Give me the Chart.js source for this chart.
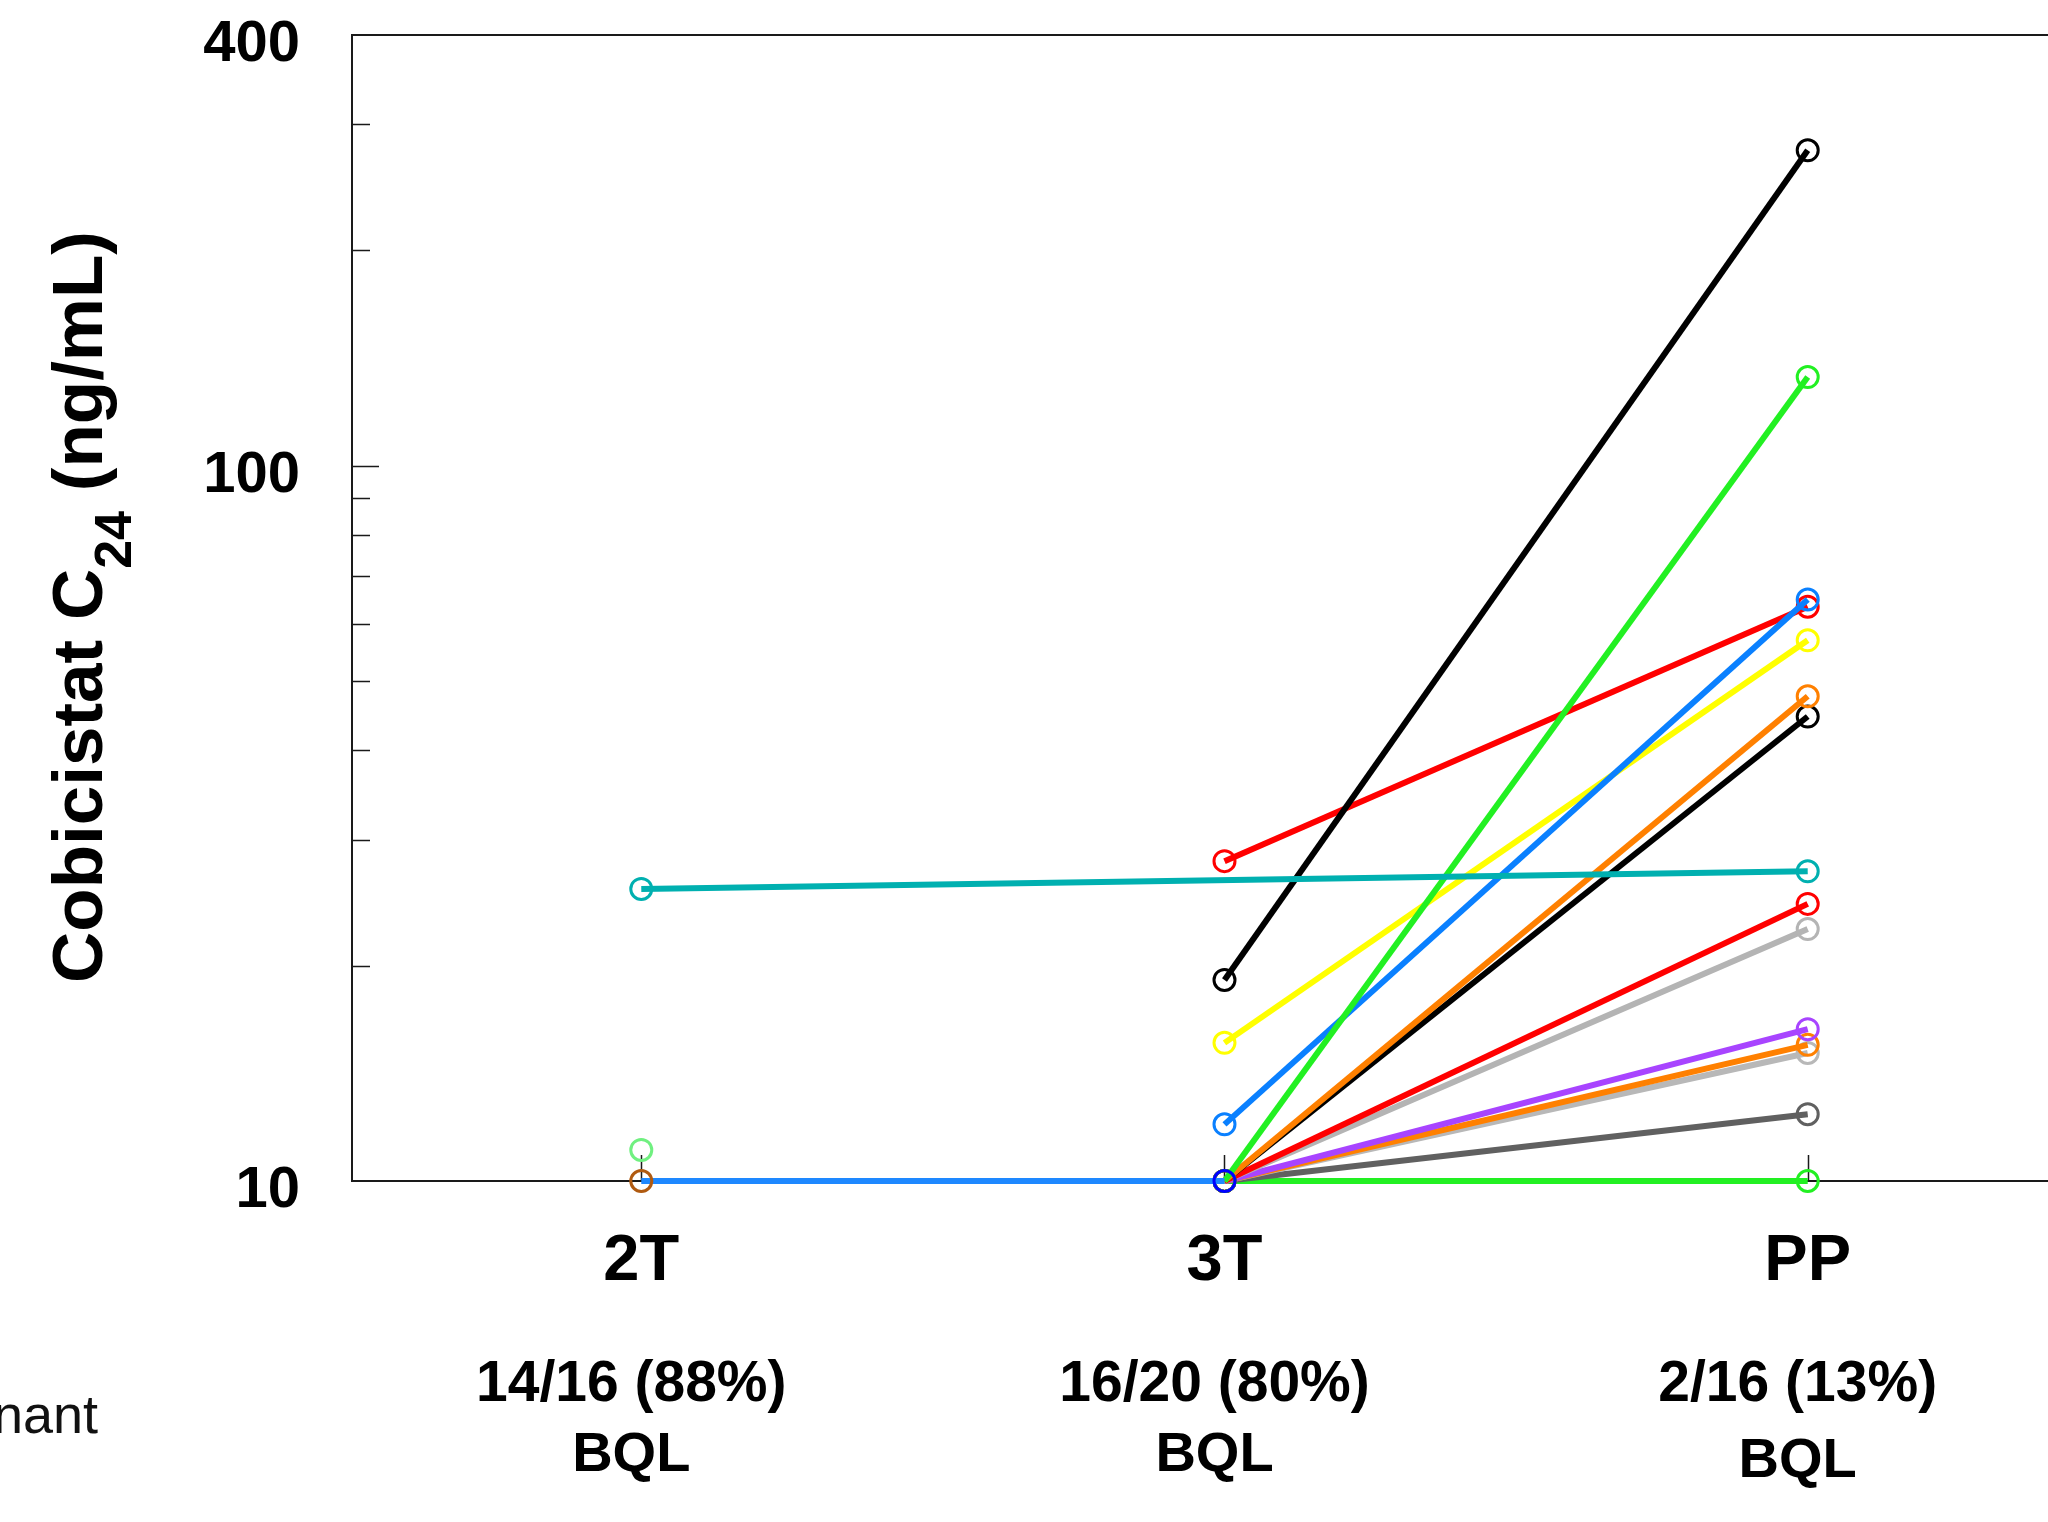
<!DOCTYPE html>
<html>
<head>
<meta charset="utf-8">
<script src="https://cdn.jsdelivr.net/npm/chart.js@4.4.1/dist/chart.umd.min.js"></script>
<style>
  html, body { margin: 0; padding: 0; background: #ffffff; overflow: hidden; }
  #wrap { width: 2048px; height: 1522px; position: relative; }
</style>
</head>
<body>
<div id="wrap"><canvas id="c" width="2048" height="1522"></canvas></div>
<script>
// ---------------- data ----------------
const categories = ['2T', '3T', 'PP'];
const yTickLabels = [10, 100, 400];
const minorTicks = [20, 30, 40, 50, 60, 70, 80, 90, 200, 300];
const majorInnerTicks = [100];
const bqlFractions = ['14/16 (88%)', '16/20 (80%)', '2/16 (13%)'];
const bqlWord = 'BQL';
const yTitleMain = 'Cobicistat C';
const yTitleSub = '24';
const yTitleUnit = ' (ng/mL)';
const sideText = 'nant';

// one array per participant line: [2T, 3T, PP] (ng/mL), null = not shown
const s_brown     = [10, null, null];
const s_blueLow   = [10, 10, null];
const s_lightGrn  = [11.05, null, null];
const s_teal      = [25.6, null, 27.1];
const s_blackA    = [null, 19.1, 276];
const s_greenA    = [null, 10, 133];
const s_blueA     = [null, 12, 65];
const s_redA      = [null, 28, 63.5];
const s_yellowA   = [null, 15.6, 57];
const s_orangeA   = [null, 10, 47.6];
const s_blackB    = [null, 10, 44.6];
const s_redB      = [null, 10, 24.4];
const s_grayA     = [null, 10, 22.5];
const s_purple    = [null, 10, 16.3];
const s_orangeB   = [null, 10, 15.5];
const s_grayB     = [null, 10, 15.1];
const s_darkGray  = [null, 10, 12.4];
const s_greenB    = [null, 10, 10];

// ---------------- styles (first = drawn on top) ----------------
const FONT = "'Liberation Sans', Arial, Helvetica, sans-serif";
const seriesDefs = [
  { values: s_brown,    line: '#B05A10', point: '#B05A10', showLine: false },
  { values: s_blueLow,  line: '#1E88FF', point: '#0000FF', hideFirst: true },
  { values: s_lightGrn, line: '#70F080', point: '#70F080', showLine: false },
  { values: s_teal,     line: '#00B0B0', point: '#00B0B0' },
  { values: s_blackA,   line: '#000000', point: '#000000' },
  { values: s_greenA,   line: '#22F022', point: '#22F022' },
  { values: s_blueA,    line: '#0A80FF', point: '#0A80FF' },
  { values: s_redA,     line: '#FF0000', point: '#FF0000' },
  { values: s_yellowA,  line: '#FFFF00', point: '#FFFF00' },
  { values: s_orangeA,  line: '#FF8000', point: '#FF8000' },
  { values: s_blackB,   line: '#000000', point: '#000000' },
  { values: s_redB,     line: '#FF0000', point: '#FF0000' },
  { values: s_grayA,    line: '#B4B4B4', point: '#B4B4B4' },
  { values: s_purple,   line: '#A844FF', point: '#A844FF' },
  { values: s_orangeB,  line: '#FF8000', point: '#FF8000' },
  { values: s_grayB,    line: '#B8B8B8', point: '#B8B8B8' },
  { values: s_darkGray, line: '#606060', point: '#606060' },
  { values: s_greenB,   line: '#22F022', point: '#22F022' }
];

const datasets = seriesDefs.map((d, k) => ({
  label: 'S' + (k + 1),
  data: d.values.map((v, i) => ({ x: i + 1, y: v })),
  borderColor: d.line,
  borderWidth: 6,
  pointBorderColor: d.point,
  pointBackgroundColor: 'rgba(0,0,0,0)',
  pointBorderWidth: 3,
  pointRadius: d.hideFirst ? d.values.map((v, i) => (i === 0 ? 0 : 10.5)) : 10.5,
  pointHoverRadius: 10.5,
  showLine: d.showLine !== false,
  spanGaps: true,
  tension: 0,
  clip: false
}));

// ---------------- decorations drawn via the scales ----------------
const framePlugin = {
  id: 'frame',
  beforeDatasetsDraw(chart) {
    const { ctx, chartArea: { left, top, right, bottom }, scales: { x, y } } = chart;
    ctx.save();
    ctx.strokeStyle = '#1a1a1a';
    ctx.lineWidth = 2;
    ctx.beginPath();
    ctx.moveTo(right + 5, top);
    ctx.lineTo(left, top);
    ctx.lineTo(left, bottom);
    ctx.lineTo(right + 5, bottom);
    ctx.stroke();
    ctx.lineWidth = 1.5;
    ctx.beginPath();
    minorTicks.forEach(v => {
      const py = Math.round(y.getPixelForValue(v)) + 0.5;
      ctx.moveTo(left, py); ctx.lineTo(left + 18, py);
    });
    majorInnerTicks.forEach(v => {
      const py = Math.round(y.getPixelForValue(v)) + 0.5;
      ctx.moveTo(left, py); ctx.lineTo(left + 27, py);
    });
    categories.forEach((c, i) => {
      const px = Math.round(x.getPixelForValue(i + 1)) + 0.5;
      ctx.moveTo(px, bottom); ctx.lineTo(px, bottom - 26);
    });
    ctx.stroke();
    ctx.restore();
  },
  afterDraw(chart) {
    const { ctx, chartArea: { top, bottom }, scales: { x } } = chart;
    ctx.save();
    ctx.fillStyle = '#000';
    ctx.textAlign = 'center';
    ctx.textBaseline = 'alphabetic';
    categories.forEach((c, i) => {
      const px = x.getPixelForValue(i + 1);
      ctx.font = 'bold 57px ' + FONT;
      ctx.fillText(bqlFractions[i], px - 10, bottom + 220);
      ctx.font = 'bold 56px ' + FONT;
      ctx.fillText(bqlWord, px - 10, bottom + (i === 2 ? 296 : 290));
    });
    // y-axis title with subscript
    ctx.translate(102, 607);
    ctx.rotate(-Math.PI / 2);
    ctx.textAlign = 'left';
    ctx.font = 'bold 71px ' + FONT;
    const w1 = ctx.measureText(yTitleMain).width;
    const w3 = ctx.measureText(yTitleUnit).width;
    ctx.font = 'bold 52px ' + FONT;
    const w2 = ctx.measureText(yTitleSub).width;
    let sx = -(w1 + w2 + w3) / 2;
    ctx.font = 'bold 71px ' + FONT;
    ctx.fillText(yTitleMain, sx, 0);
    sx += w1;
    ctx.font = 'bold 52px ' + FONT;
    ctx.fillText(yTitleSub, sx, 29);
    sx += w2;
    ctx.font = 'bold 71px ' + FONT;
    ctx.fillText(yTitleUnit, sx, 0);
    ctx.restore();
    // cut-off side text
    ctx.save();
    ctx.fillStyle = '#111';
    ctx.font = '54px ' + FONT;
    ctx.textAlign = 'right';
    ctx.textBaseline = 'alphabetic';
    ctx.fillText(sideText, 98, 1433);
    ctx.restore();
  }
};

new Chart(document.getElementById('c'), {
  type: 'line',
  data: { datasets },
  options: {
    responsive: false,
    devicePixelRatio: 1,
    animation: false,
    events: [],
    layout: { autoPadding: false, padding: { top: 35, left: 0, right: 0, bottom: 0 } },
    plugins: { legend: { display: false }, tooltip: { enabled: false }, title: { display: false } },
    scales: {
      x: {
        type: 'linear',
        min: 0.504,
        max: 3.412,
        grid: { display: false, drawTicks: false },
        border: { display: false },
        afterBuildTicks: s => { s.ticks = categories.map((c, i) => ({ value: i + 1 })); },
        afterFit: s => { s.height = 341; s.paddingLeft = 0; s.paddingRight = 0; },
        ticks: {
          autoSkip: false,
          maxRotation: 0,
          padding: 42,
          color: '#000',
          font: { family: FONT, size: 65, weight: 'bold' },
          callback: v => categories[Math.round(v) - 1]
        }
      },
      y: {
        type: 'logarithmic',
        min: 10,
        max: 400,
        grid: { display: false, drawTicks: false },
        border: { display: false },
        afterBuildTicks: s => { s.ticks = yTickLabels.map(v => ({ value: v })); },
        afterFit: s => { s.width = 352; s.paddingTop = 0; s.paddingBottom = 0; },
        ticks: {
          autoSkip: false,
          padding: 52,
          labelOffset: 10,
          color: '#000',
          font: { family: FONT, size: 58, weight: 'bold' },
          callback: v => String(v)
        }
      }
    }
  },
  plugins: [framePlugin]
});
</script>
</body>
</html>
